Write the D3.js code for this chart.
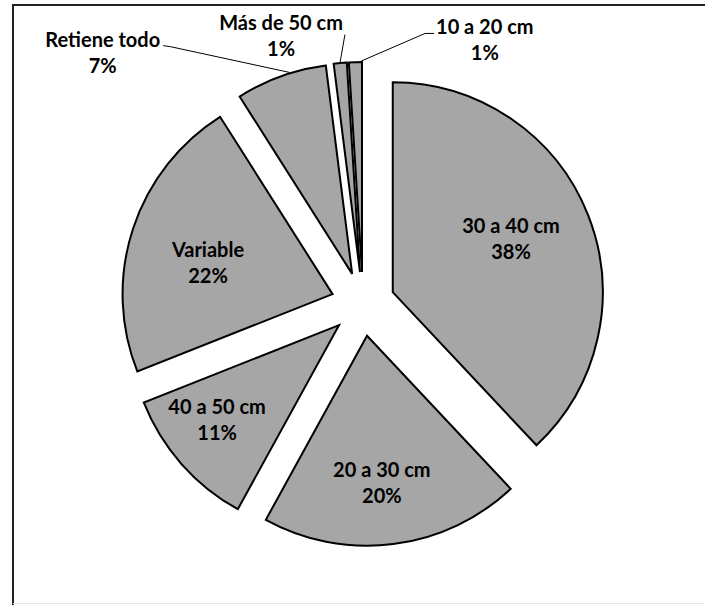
<!DOCTYPE html>
<html>
<head>
<meta charset="utf-8">
<script src="https://cdn.jsdelivr.net/npm/d3@7"></script>
<style>
  html, body { margin: 0; padding: 0; background: #fff; }
  svg { display: block; }
  text { font-family: Lato, "Open Sans", sans-serif; font-weight: 700; fill: #000; }
</style>
</head>
<body>
<script>
// ---- data ----
const categories = ["30 a 40 cm", "20 a 30 cm", "40 a 50 cm", "Variable", "Retiene todo", "Más de 50 cm", "10 a 20 cm"];
const values = [38, 20, 11, 22, 7, 1, 1];
const percentLabels = ["38%", "20%", "11%", "22%", "7%", "1%", "1%"];

// ---- layout (positions / styles) ----
const W = 705, H = 605;
const cx = 363, cy = 304, R = 210, explode = 32;
// label anchor in polar form around pie center: [angle deg, radius px]
const labelPolar = [[68.6, 159], [174.2, 186.5], [229.8, 191], [282.4, 158.7], [313.2, 357], [342.6, 274], [25.4, 284]];
// leader style: none / from right edge with elbow / from right edge straight / from left edge with elbow
const leaderStyle = [null, null, null, null, "rightElbow", "rightStraight", "leftElbow"];
// where the leader touches the slice (fraction of the slice's angular span)
const leaderFrac = [0.5, 0.5, 0.5, 0.5, 0.6, 0.5, 0.95];
const fontSize = 20, lineGap = 26;

const svg = d3.select("body").append("svg").attr("width", W).attr("height", H);

// frame
svg.append("rect").attr("x", 13).attr("y", 5).attr("width", W + 20).attr("height", H + 20)
  .attr("fill", "none").attr("stroke", "#222").attr("stroke-width", 2);
svg.append("line").attr("x1", 13).attr("x2", W).attr("y1", 603.5).attr("y2", 603.5)
  .attr("stroke", "#e6e6e6").attr("stroke-width", 1);

const pie = d3.pie().sort(null).value(d => d)(values);
const arc = d3.arc().innerRadius(0).outerRadius(R);

const g = svg.append("g").attr("transform", `translate(${cx},${cy})`);

function offsetOf(d) {
  const m = (d.startAngle + d.endAngle) / 2;
  return [explode * Math.sin(m), -explode * Math.cos(m)];
}

g.selectAll("path.slice").data(pie).enter().append("path")
  .attr("class", "slice")
  .attr("transform", d => { const o = offsetOf(d); return `translate(${o[0]},${o[1]})`; })
  .attr("d", arc)
  .attr("fill", "#a6a6a6")
  .attr("stroke", "#000")
  .attr("stroke-width", 2)
  .attr("stroke-linejoin", "miter");

// labels
const rad = Math.PI / 180;
const labels = svg.append("g");
pie.forEach((d, i) => {
  const [a, r] = labelPolar[i];
  const lx = cx + r * Math.sin(a * rad);
  const ly = cy - r * Math.cos(a * rad);
  const t = labels.append("text").attr("text-anchor", "middle").style("font-size", fontSize + "px");
  t.append("tspan").attr("x", lx).attr("y", ly - lineGap / 2).text(categories[i]);
  t.append("tspan").attr("x", lx).attr("y", ly + lineGap / 2).text(percentLabels[i]);

  const style = leaderStyle[i];
  if (style) {
    const w = t.select("tspan").node().getComputedTextLength();
    const o = offsetOf(d);
    const ang = d.startAngle + leaderFrac[i] * (d.endAngle - d.startAngle);
    const ex = cx + o[0] + (R + 1) * Math.sin(ang);
    const ey = cy + o[1] - (R + 1) * Math.cos(ang);
    const by = ly - lineGap / 2;
    let pts;
    if (style === "rightElbow") {
      const sx = lx + w / 2 + 3;
      pts = [[sx, by - 1], [sx + 7, by], [ex, ey]];
    } else if (style === "rightStraight") {
      const sx = lx + w / 2 + 2;
      pts = [[sx, by + 5], [ex, ey]];
    } else {
      const sx = lx - w / 2 - 2;
      pts = [[sx, by - 1], [sx - 9, by - 1], [ex, ey]];
    }
    svg.append("path").attr("d", d3.line()(pts)).attr("fill", "none")
      .attr("stroke", "#000").attr("stroke-width", 1);
  }
});
</script>
</body>
</html>
